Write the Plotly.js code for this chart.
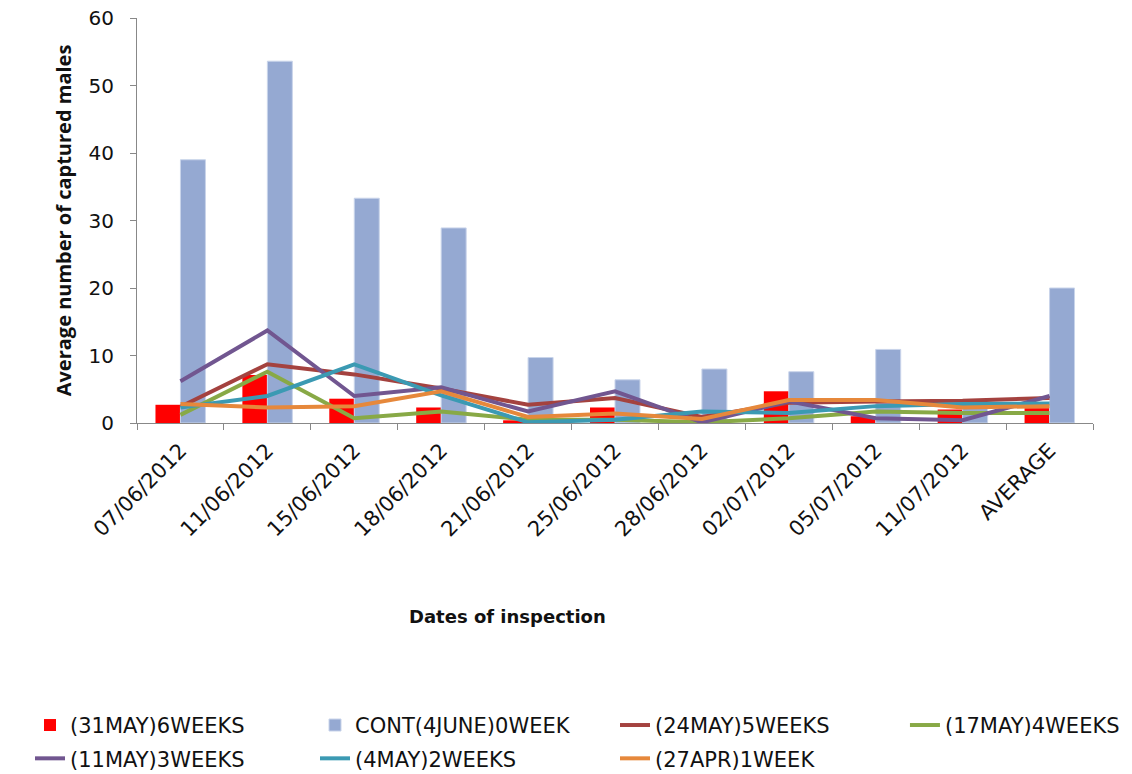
<!DOCTYPE html>
<html>
<head>
<meta charset="utf-8">
<script src="https://cdn.plot.ly/plotly-3.0.1.min.js"></script>
<style>html,body{margin:0;padding:0;background:#fff;}#chart{width:1132px;height:774px;}</style>
</head>
<body>
<div id="chart"></div>
<script>
const categories = ["07/06/2012","11/06/2012","15/06/2012","18/06/2012","21/06/2012","25/06/2012","28/06/2012","02/07/2012","05/07/2012","11/07/2012","AVERAGE"];
const may31_6weeks = [2.7, 7.1, 3.6, 2.3, 0.4, 2.3, 0.0, 4.7, 1.0, 2.0, 2.2];
const cont_0week   = [39.0, 53.6, 33.3, 28.9, 9.7, 6.4, 8.0, 7.6, 10.9, 2.7, 20.0];
const may24_5weeks = [2.4, 8.7, 7.2, 5.1, 2.7, 3.7, 0.9, 3.0, 3.2, 3.3, 3.7];
const may17_4weeks = [1.2, 7.6, 0.7, 1.7, 0.5, 0.5, 0.1, 0.7, 1.7, 1.5, 1.5];
const may11_3weeks = [6.2, 13.7, 4.0, 5.3, 1.7, 4.7, 0.1, 3.2, 0.7, 0.4, 4.0];
const may4_2weeks  = [2.3, 4.0, 8.7, 4.1, 0.1, 0.5, 1.7, 1.5, 2.5, 2.8, 2.9];
const apr27_1week  = [2.8, 2.3, 2.5, 4.7, 0.9, 1.4, 0.6, 3.4, 3.4, 2.3, 2.5];

const lineW = 4;
const traces = [
  {type:"bar", name:"(31MAY)6WEEKS", x:categories, y:may31_6weeks, marker:{color:"#FF0000"}, legend:"legend", legendgroup:"a"},
  {type:"bar", name:"CONT(4JUNE)0WEEK", x:categories, y:cont_0week, marker:{color:"#95A9D2", line:{color:"#C9D4EA", width:1}}, legend:"legend2", legendgroup:"b"},
  {type:"scatter", mode:"lines", name:"(24MAY)5WEEKS", x:categories, y:may24_5weeks, line:{color:"#A4423F", width:lineW}, legend:"legend3", legendgroup:"c"},
  {type:"scatter", mode:"lines", name:"(17MAY)4WEEKS", x:categories, y:may17_4weeks, line:{color:"#88A946", width:lineW}, legend:"legend4", legendgroup:"d"},
  {type:"scatter", mode:"lines", name:"(11MAY)3WEEKS", x:categories, y:may11_3weeks, line:{color:"#715690", width:lineW}, legend:"legend", legendgroup:"e"},
  {type:"scatter", mode:"lines", name:"(4MAY)2WEEKS", x:categories, y:may4_2weeks, line:{color:"#3B9AB3", width:lineW}, legend:"legend2", legendgroup:"f"},
  {type:"scatter", mode:"lines", name:"(27APR)1WEEK", x:categories, y:apr27_1week, line:{color:"#E6883B", width:lineW}, legend:"legend3", legendgroup:"g"}
];

function legendAt(xPaper) {
  return {
    orientation:"v", x:xPaper, xanchor:"left", y:-0.696, yanchor:"top",
    font:{family:"DejaVu Sans, sans-serif", size:21, color:"#111"},
    traceorder:"grouped", tracegroupgap:3, bgcolor:"rgba(0,0,0,0)", borderwidth:0
  };
}

const layout = {
  width:1132, height:774,
  margin:{l:137, r:39, t:18, b:351, autoexpand:false},
  paper_bgcolor:"#fff", plot_bgcolor:"#fff",
  font:{family:"DejaVu Sans, sans-serif", color:"#000"},
  barmode:"group", bargap:0.425, bargroupgap:0,
  showlegend:true,
  xaxis:{
    type:"category", showgrid:false, zeroline:false,
    showline:true, linecolor:"#888", linewidth:1,
    ticks:"outside", ticklen:6, tickcolor:"#888", tickson:"boundaries",
    tickangle:-45, tickfont:{family:"DejaVu Sans, sans-serif", size:21, color:"#111"},
    ticklabelstandoff:6,
    range:[-0.5, 10.5], automargin:false
  },
  yaxis:{
    range:[0,60], dtick:10, showgrid:false, zeroline:false,
    showline:true, linecolor:"#888", linewidth:1,
    ticks:"outside", ticklen:6, tickcolor:"#888",
    tickfont:{family:"DejaVu Sans, sans-serif", size:20, color:"#111"}, ticklabelstandoff:12,
    automargin:false,
    title:{text:"Average number of captured males", font:{family:"Open Sans, sans-serif", size:20, weight:"bold", color:"#111"}, standoff:11}
  },
  annotations:[{
    text:"Dates of inspection", xref:"paper", yref:"paper", x:0.388, y:-0.479,
    xanchor:"center", yanchor:"middle",
    showarrow:false, font:{family:"DejaVu Sans, sans-serif", size:18, weight:"bold", color:"#111"}
  }],
  legend: legendAt(-0.1119),
  legend2: legendAt(0.1862),
  legend3: legendAt(0.5),
  legend4: legendAt(0.8033)
};

Plotly.newPlot("chart", traces, layout, {displayModeBar:false, staticPlot:true});
</script>
</body>
</html>
